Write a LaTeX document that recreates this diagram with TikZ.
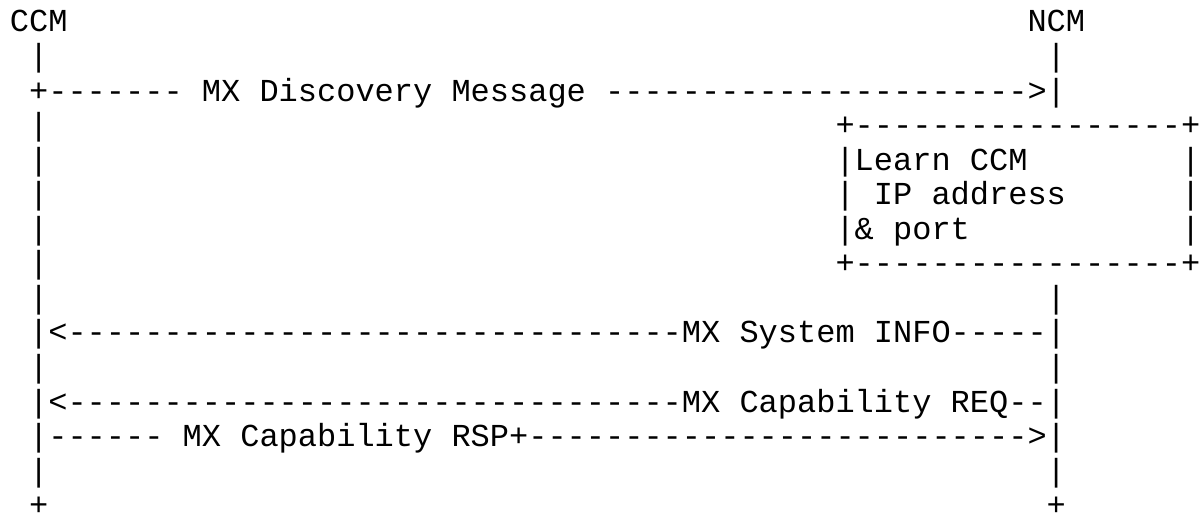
\documentclass[tikz,border=0pt]{standalone}
\usepackage{fontspec}
\setmonofont{Liberation Mono}
\begin{document}
\begin{tikzpicture}[x=1pt,y=1pt,
  asc/.style={anchor=base west,inner sep=0pt,outer sep=0pt,
    font=\ttfamily\fontsize{32}{34.55}\selectfont,text=black},
  flat/.style={text depth=0pt}]
\useasboundingbox (0,0) rectangle (1201,516);
\fill[white] (0,0) rectangle (1201,516);
\def\xo{9.9}\def\cw{19.2}\def\lh{34.55}\def\bt{32}
\newcommand\asciirow[5][]{\node[asc,#1] (#2) at ({\xo+#3*\cw},{516-\bt-#4*\lh}) {#5};}
% row 0
\asciirow{ccm}{0}{0}{CCM}
\asciirow{ncm}{53}{0}{NCM}
% row 1
\asciirow{l1}{1}{1}{|}
\asciirow{r1}{54}{1}{|}
% row 2  (7 dashes, 22 dashes)
\asciirow{disc}{1}{2}{+------- MX Discovery Message ---------------------->|}
% row 3
\asciirow{l3}{1}{3}{|}
\asciirow{boxtop}{43}{3}{+-----------------+}
% row 4
\asciirow{l4}{1}{4}{|}
\asciirow{learn}{43}{4}{|Learn CCM}
\asciirow{b4}{61}{4}{|}
% row 5
\asciirow{l5}{1}{5}{|}
\asciirow{a5}{43}{5}{|}
\asciirow{ip}{45}{5}{IP address}
\asciirow{b5}{61}{5}{|}
% row 6
\asciirow{l6}{1}{6}{|}
\asciirow{port}{43}{6}{|\& port}
\asciirow{b6}{61}{6}{|}
% row 7
\asciirow{l7}{1}{7}{|}
\asciirow{boxbot}{43}{7}{+-----------------+}
% row 8
\asciirow{l8}{1}{8}{|}
\asciirow{r8}{54}{8}{|}
% row 9
\asciirow{info}{1}{9}{|<--------------------------------MX System INFO-----|}
% row 10
\asciirow{l10}{1}{10}{|}
\asciirow{r10}{54}{10}{|}
% row 11
\asciirow{req}{1}{11}{|<--------------------------------MX Capability REQ--|}
% row 12
\asciirow{rsp}{1}{12}{|------ MX Capability RSP+-------------------------->|}
% row 13
\asciirow{l13}{1}{13}{|}
\asciirow{r13}{54}{13}{|}
% row 14
\asciirow[flat]{l14}{1}{14}{+}
\asciirow[flat]{r14}{54}{14}{+}
\end{tikzpicture}
\end{document}
